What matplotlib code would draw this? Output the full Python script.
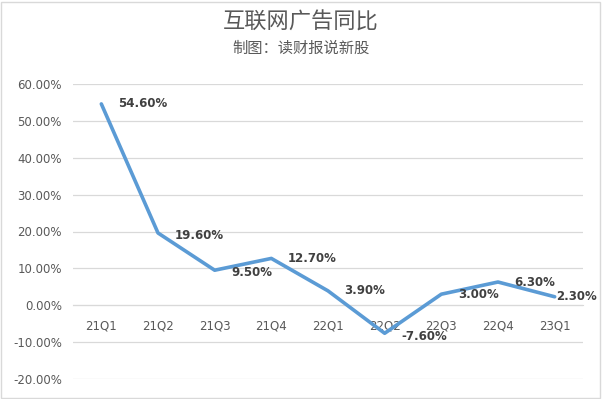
import matplotlib
matplotlib.use("Agg")
import matplotlib.pyplot as plt
from matplotlib.patches import Rectangle
from matplotlib.ticker import FuncFormatter

plt.rcParams['font.family'] = ['Noto Sans CJK SC', 'DejaVu Sans']

categories = ["21Q1", "21Q2", "21Q3", "21Q4", "22Q1", "22Q2", "22Q3", "22Q4", "23Q1"]
values = [54.60, 19.60, 9.50, 12.70, 3.90, -7.60, 3.00, 6.30, 2.30]
yticks = [-20, -10, 0, 10, 20, 30, 40, 50, 60]
title = "互联网广告同比"
subtitle = "制图：读财报说新股"

fig = plt.figure(figsize=(6.02, 3.99), dpi=100)
fig.patch.set_facecolor("white")
fig.add_artist(Rectangle((0.002, 0.003), 0.995, 0.993, transform=fig.transFigure,
                         fill=False, edgecolor="#D9D9D9", linewidth=1))

ax = fig.add_axes([73/602, 1-379/399, 510/602, (379-84)/399])
x = list(range(len(categories)))
ax.plot(x, values, color="#5B9BD5", linewidth=2.6, solid_capstyle="round", zorder=3)
ax.set_xlim(-0.5, len(categories)-0.5)
ax.set_ylim(-20, 60)
ax.set_yticks(yticks)
ax.yaxis.set_major_formatter(FuncFormatter(lambda v, p: f"{v:.2f}%"))
ax.grid(axis="y", color="#D9D9D9", linewidth=0.9)
ax.set_axisbelow(True)
for s in ["top", "right", "left"]:
    ax.spines[s].set_visible(False)
ax.spines["bottom"].set_position(("data", 0))
ax.spines["bottom"].set_color("#D9D9D9")
ax.set_xticks(x)
ax.set_xticklabels(categories, family=["DejaVu Sans"])
ax.tick_params(axis="x", length=0, pad=10, labelsize=8.5, colors="#595959")
ax.tick_params(axis="y", length=0, pad=8, labelsize=8.5, colors="#595959")
for lab in ax.get_yticklabels():
    lab.set_family(["DejaVu Sans"])

for i, v in enumerate(values):
    dx = 12 if i < len(values)-1 else 1
    dy = -2 if i in (1, 2, 5) else 0
    ax.annotate(f"{v:.2f}%", (i, v), xytext=(dx, dy), textcoords="offset points",
                ha="left", va="center", fontsize=8.5, fontweight="bold",
                color="#404040", family=["DejaVu Sans"], zorder=4)

fig.text(0.5, 1-22/399, title, ha="center", va="center", fontsize=16, color="#595959")
fig.text(0.5, 1-48/399, subtitle, ha="center", va="center", fontsize=11, color="#595959")

fig.savefig("out.png", dpi=100)
